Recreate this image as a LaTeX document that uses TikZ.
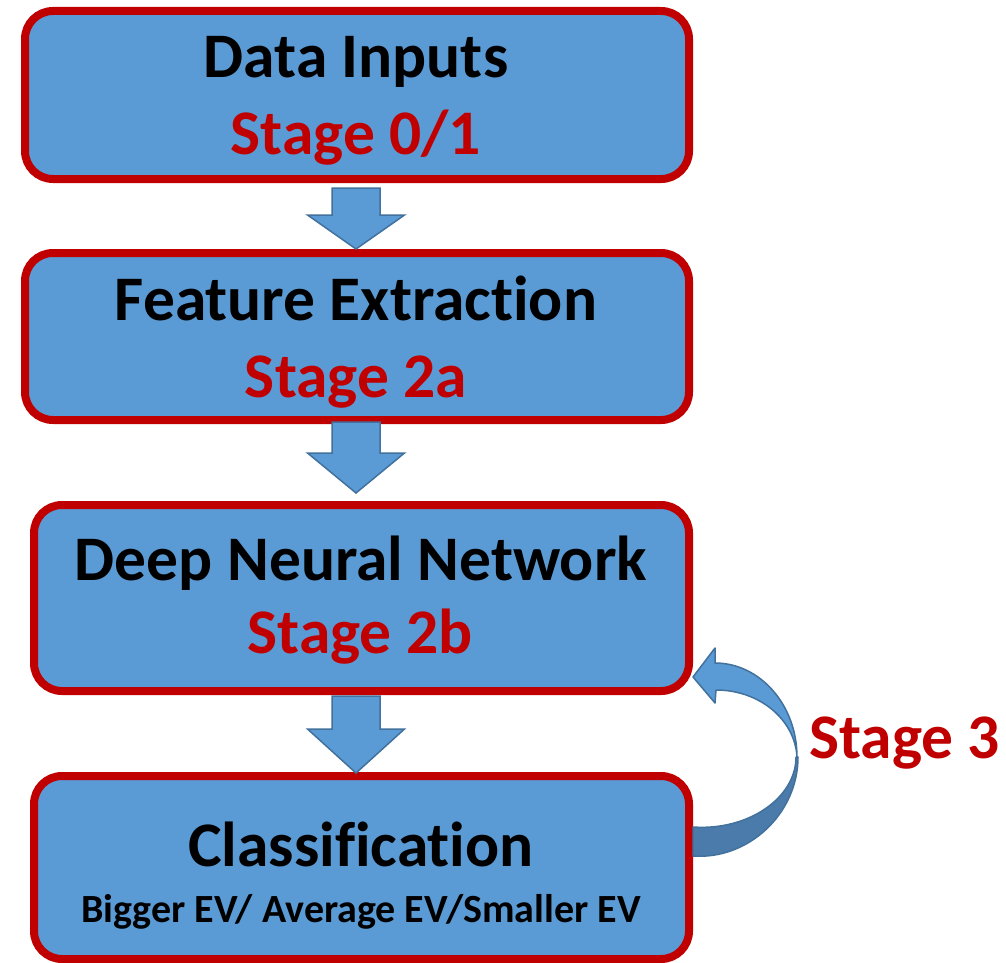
\documentclass[tikz,border=0pt]{standalone}
\usepackage{fontspec}
\setmainfont{Carlito}[Ligatures=NoCommon]
\usetikzlibrary{calc}
\definecolor{boxblue}{HTML}{5B9BD5}
\definecolor{boxred}{HTML}{C00000}
\definecolor{arrowline}{HTML}{41719C}
\definecolor{arrowdark}{HTML}{4A7BAB}
\tikzset{
  stagebox/.style={draw=boxred, fill=boxblue, line width=8pt, rounded corners=28pt, inner sep=0pt},
  titletext/.style={anchor=base, inner sep=0pt, font=\fontsize{63.5}{72}\selectfont\bfseries, text=black},
  stagetext/.style={anchor=base, inner sep=0pt, font=\fontsize{63.5}{72}\selectfont\bfseries, text=boxred},
  smalltext/.style={anchor=base, inner sep=0pt, font=\fontsize{40}{44}\selectfont\bfseries, text=black},
  blockarrow/.style={draw=arrowline, fill=boxblue, line width=1.5pt, line join=miter},
  curvelight/.style={draw=arrowline, fill=boxblue, line width=1.5pt, line join=round},
  curvedark/.style={draw=arrowline, fill=arrowdark, line width=1.5pt, line join=round}
}
\begin{document}
\begin{tikzpicture}[x=1pt,y=-1pt]
\useasboundingbox (0,0) rectangle (1006,963);
\fill[white] (0,0) rectangle (1006,963);

% boxes
\node[stagebox, minimum width=664pt, minimum height=168pt] (b1) at (357,95) {};
\node[stagebox, minimum width=664pt, minimum height=167pt] (b2) at (357,336.5) {};
\node[stagebox, minimum width=655pt, minimum height=186pt] (b3) at (361.5,598) {};
\node[stagebox, minimum width=655pt, minimum height=183pt] (b4) at (361.5,867.5) {};

% texts
\node[titletext] (t1) at (356,78) {Data Inputs};
\node[stagetext] (s1) at (356,154) {Stage 0/1};
\node[titletext] (t2) at (356,320) {Feature Extraction};
\node[stagetext] (s2) at (356,397) {Stage 2a};
\node[titletext] (t3) at (361,580) {Deep Neural Network};
\node[stagetext] (s3) at (360,653) {Stage 2b};
\node[titletext] (t4) at (361,866) {Classification};
\node[smalltext] (t4b) at (361,922) {Bigger EV/ Average EV/Smaller EV};

% block arrows
\coordinate (axis) at (356,0);
\coordinate (a1t) at ([yshift=-5pt]b1.south -| axis);
\coordinate (a1p) at (b2.north -| axis);
\coordinate (a2t) at ([yshift=2pt]b2.south -| axis);
\coordinate (a2p) at ([yshift=8pt]b3.north -| axis);
\coordinate (a3t) at ([yshift=-1pt]b3.south -| axis);
\coordinate (a3p) at ([yshift=-1pt]b4.north -| axis);

\draw[blockarrow] ([xshift=-24pt]a1t) -- ([xshift=24pt]a1t) -- ([xshift=24pt,yshift=34pt]a1p)
  -- ([xshift=48.5pt,yshift=34pt]a1p) -- (a1p) -- ([xshift=-48.5pt,yshift=34pt]a1p)
  -- ([xshift=-24pt,yshift=34pt]a1p) -- cycle;
\draw[blockarrow] ([xshift=-24pt]a2t) -- ([xshift=24pt]a2t) -- ([xshift=24pt,yshift=40pt]a2p)
  -- ([xshift=48.5pt,yshift=40pt]a2p) -- (a2p) -- ([xshift=-48.5pt,yshift=40pt]a2p)
  -- ([xshift=-24pt,yshift=40pt]a2p) -- cycle;
\draw[blockarrow] ([xshift=-24pt]a3t) -- ([xshift=24pt]a3t) -- ([xshift=24pt,yshift=44pt]a3p)
  -- ([xshift=48.5pt,yshift=44pt]a3p) -- (a3p) -- ([xshift=-48.5pt,yshift=44pt]a3p)
  -- ([xshift=-24pt,yshift=44pt]a3p) -- cycle;

% curved feedback arrow (Stage 3)
\coordinate (ctip) at ([yshift=18pt]b3.south east);
\coordinate (ctail) at ([yshift=-55pt]b4.north east);
\draw[curvedark] (796,757) .. controls (796,798) and (748,831) .. ($(ctail)+(0,0)$)
  -- ($(ctail)+(0,29)$) .. controls (748,860) and (798,814) .. (798,757) -- cycle;
\draw[curvelight] (ctip) -- (715,648) -- (715,663)
  .. controls (760,663) and (797,705) .. (797,757)
  .. controls (795,720) and (760,690) .. (716,690)
  -- (715,703) -- cycle;

\node[stagetext, anchor=base west] (st3) at (809,758) {Stage 3};
\end{tikzpicture}
\end{document}
